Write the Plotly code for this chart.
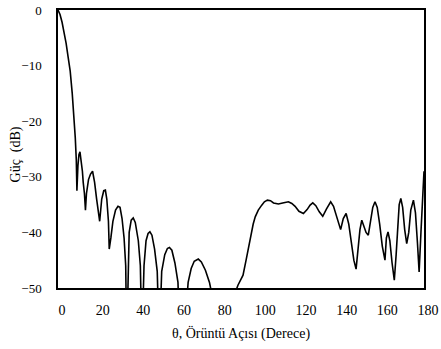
import plotly.graph_objects as go

# Pattern angle (degrees) and power (dB)
theta = [0, 1, 2, 3, 4, 5, 6, 7, 8, 8.5, 9, 9.3, 9.8, 10.3, 10.8, 11.4, 12, 12.4, 13, 13.5,
         14, 15, 16, 17, 18, 19, 20, 20.5, 21.5, 22.5, 23.3, 24, 24.8, 25.2, 26, 27, 28.3, 29.5,
         30.5, 31.5, 32.5, 33.3, 33.8, 35, 36, 37, 38, 39.5, 40.5, 41.3, 42.3, 43.3, 44.3, 45.2,
         46.2, 47.5, 48.8, 49.8, 51, 52.5, 53.8, 54.8, 56, 57.5, 59, 60, 61.8, 64, 65.5, 67, 69,
         70.5, 72.5, 74.5, 75.6, 76.5, 86, 87, 88.5, 90, 91, 92.5, 94.4, 96, 97, 98.5, 100.2,
         101.5, 103, 104.5, 106, 108.4, 110.5, 113.3, 115, 116.6, 118.5, 120.7, 122.5, 124,
         125.3, 126.8, 128.5, 130.2, 132, 134.1, 135.5, 137, 139, 140.3, 141.7, 143, 144.5,
         145.5, 146.6, 147.5, 148.5, 149.4, 150.5, 151.5, 152.6, 153.7, 154.8, 155.9, 157,
         158.2, 159.5, 160.8, 161.5, 162.3, 163.2, 164.3, 165.4, 166.3, 167, 167.8, 168.6,
         169.5, 170.5, 171.5, 172.5, 173.5, 174.8, 175.8, 176.8, 177.6, 178.5, 179.3, 180]
power = [0, -0.8, -2.2, -3.8, -6, -8.5, -11, -15, -20, -23, -27, -32.5, -28, -26, -25.5, -27,
         -29, -31, -33, -36, -33, -30.5, -29.5, -29, -31, -34, -37.5, -38, -34, -32.5, -32.4,
         -34, -38, -43, -41, -38, -36, -35.3, -35.5, -37.5, -41, -46, -60, -40, -37.8, -37.4,
         -38.2, -41.5, -46, -60, -46, -41.5, -40.2, -39.9, -40.5, -43, -47, -60, -47, -44,
         -42.9, -42.7, -43.2, -45.5, -49, -60, -60, -49, -46.5, -45.2, -44.8, -45.3, -46.8,
         -49, -51, -60, -60, -51, -49.5, -48.5, -47.7, -45, -41.4, -38.5, -37.2, -36, -35.1,
         -34.5, -34.2, -34.3, -34.7, -34.9, -34.7, -34.5, -34.8, -35.3, -36.2, -36.6, -35.9,
         -35.1, -34.7, -35.2, -36.3, -37.1, -35.8, -34.5, -35.3, -37.3, -39.5, -37.5, -36.6,
         -38.5, -42, -45, -46.6, -43, -39.5, -37.8, -38.8, -40, -40.5, -38, -35.5, -34.5,
         -35.5, -38.5, -42.5, -45, -41, -39.9, -41.5, -45.5, -48.6, -44, -38.5, -35, -33.9,
         -35.5, -39.5, -42, -40, -36, -34.2, -36.5, -42, -47.1, -40, -33, -29]

x_ticks = [0, 20, 40, 60, 80, 100, 120, 140, 160, 180]
y_ticks = [0, -10, -20, -30, -40, -50]

x_title = "θ, Örüntü Açısı (Derece)"
y_title = "Güç  (dB)"

font_family = "Liberation Serif, Times New Roman, serif"

fig = go.Figure(go.Scatter(
    x=theta, y=power, mode="lines",
    line=dict(color="black", width=1.6),
    showlegend=False, hoverinfo="skip",
))

fig.update_layout(
    width=441, height=349,
    margin=dict(l=58, r=17, t=10, b=61),
    paper_bgcolor="white", plot_bgcolor="white",
    font=dict(family=font_family, size=14, color="black"),
)
fig.update_xaxes(
    range=[0, 180], tickvals=x_ticks, ticks="", showgrid=False, zeroline=False,
    showline=True, linecolor="black", linewidth=1.5, mirror=True,
    ticklabelstandoff=8, ticklabelshift=4, automargin=False,
    ticklabeloverflow="allow",
    title=dict(text=x_title, standoff=12, font=dict(family=font_family, size=14)),
)
fig.update_yaxes(
    range=[-50, 0], tickvals=y_ticks, ticks="", showgrid=False, zeroline=False,
    showline=True, linecolor="black", linewidth=1.5, mirror=True,
    ticklabelstandoff=12, automargin=False, tickfont=dict(size=13),
)
fig.add_annotation(
    text=y_title, textangle=-90, showarrow=False,
    xref="paper", yref="paper", x=-0.115, y=0.48,
    xanchor="center", yanchor="middle",
    font=dict(family=font_family, size=14),
)

fig.write_html("out.html", config={"displayModeBar": False},
               post_script="document.body.style.margin='0';document.body.style.padding='0';")
